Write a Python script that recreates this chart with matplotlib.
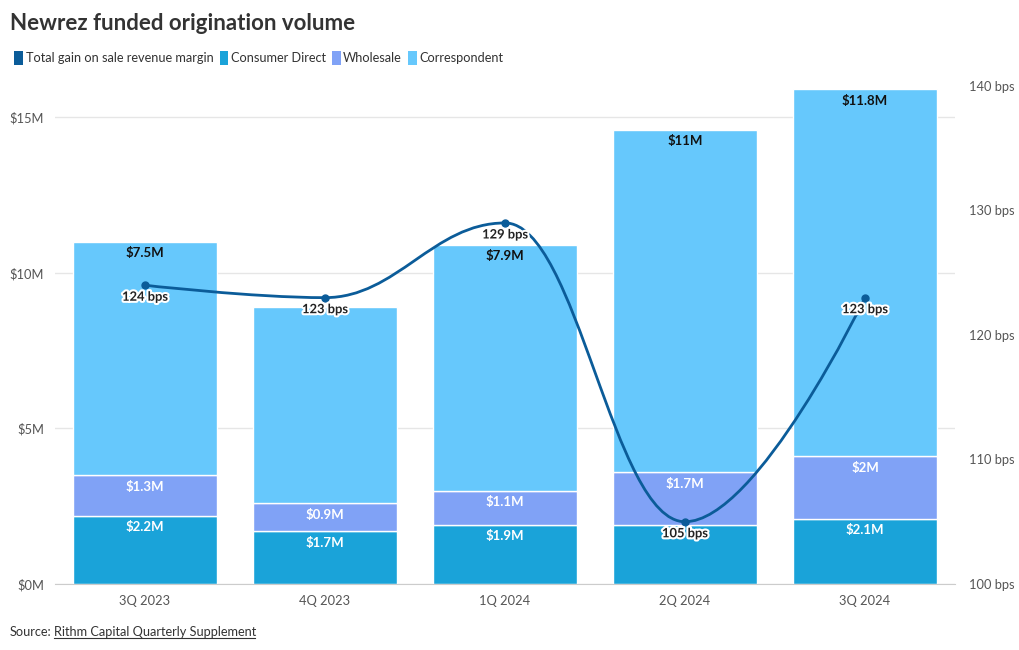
import numpy as np
import matplotlib.pyplot as plt
from matplotlib.path import Path
from matplotlib.patches import PathPatch, Patch
from matplotlib.lines import Line2D
import matplotlib.patheffects as pe

plt.rcParams['font.family'] = ['Lato', 'DejaVu Sans']

quarters = ['3Q 2023', '4Q 2023', '1Q 2024', '2Q 2024', '3Q 2024']
consumer_direct = [2.2, 1.7, 1.9, 1.9, 2.1]
consumer_labels = ['$2.2M', '$1.7M', '$1.9M', '', '$2.1M']
wholesale = [1.3, 0.9, 1.1, 1.7, 2.0]
wholesale_labels = ['$1.3M', '$0.9M', '$1.1M', '$1.7M', '$2M']
correspondent = [7.5, 6.3, 7.9, 11.0, 11.8]
correspondent_labels = ['$7.5M', '', '$7.9M', '$11M', '$11.8M']
margin_bps = [124, 123, 129, 105, 123]

c_line = '#0b5c99'
c_cd = '#1aa3d9'
c_ws = '#80a2f6'
c_cor = '#66c8fc'

fig = plt.figure(figsize=(10.2, 6.5), dpi=100)
ax = fig.add_axes([55 / 1020, 66 / 650, 900 / 1020, 498 / 650])
ax2 = ax.twinx()

x = np.arange(len(quarters))
w = 0.8
cd = np.array(consumer_direct)
ws = np.array(wholesale)
co = np.array(correspondent)
ax.bar(x, cd, w, color=c_cd, edgecolor='white', linewidth=1, zorder=2)
ax.bar(x, ws, w, bottom=cd, color=c_ws, edgecolor='white', linewidth=1, zorder=2)
ax.bar(x, co, w, bottom=cd + ws, color=c_cor, edgecolor='white', linewidth=1, zorder=2)

bold = dict(fontsize=9.5, fontweight='bold', ha='center', va='top')
for i in range(len(x)):
    tops = [cd[i], cd[i] + ws[i], cd[i] + ws[i] + co[i]]
    labs = [consumer_labels[i], wholesale_labels[i], correspondent_labels[i]]
    cols = ['white', 'white', '#111111']
    for top, lab, col in zip(tops, labs, cols):
        if lab:
            ax.annotate(lab, (x[i], top), xytext=(0, -4), textcoords='offset points',
                        color=col, zorder=5, **bold)

ax.set_xlim(-0.5, len(x) - 0.5)
ax.set_ylim(0, 16)
ax.set_yticks([0, 5, 10, 15])
ax.set_yticklabels(['$0M', '$5M', '$10M', '$15M'])
ax.set_xticks(x)
ax.set_xticklabels(quarters)
ax.grid(axis='y', color='#e6e6e6', linewidth=1, zorder=0)
ax.set_axisbelow(True)
for s in ['top', 'right', 'left']:
    ax.spines[s].set_visible(False)
    ax2.spines[s].set_visible(False)
ax.spines['bottom'].set_color('#cccccc')
ax2.spines['bottom'].set_visible(False)
ax.tick_params(axis='both', length=0, labelsize=9.3, colors='#555555', pad=8)

ax2.set_ylim(100, 140)
ax2.set_yticks([100, 110, 120, 130, 140])
ax2.set_yticklabels([f'{v} bps' for v in [100, 110, 120, 130, 140]])
ax2.tick_params(axis='y', length=0, labelsize=9.3, colors='#555555', pad=10)

# smooth spline through the margin points (Highcharts style control points)
px = x.astype(float)
py = np.array(margin_bps, dtype=float)
sm = 1.5
n = len(px)
lcx, lcy, rcx, rcy = px.copy(), py.copy(), px.copy(), py.copy()
for i in range(1, n - 1):
    lx = (sm * px[i] + px[i - 1]) / (sm + 1)
    ly = (sm * py[i] + py[i - 1]) / (sm + 1)
    rx = (sm * px[i] + px[i + 1]) / (sm + 1)
    ry = (sm * py[i] + py[i + 1]) / (sm + 1)
    corr = (ry - ly) * (rx - px[i]) / (rx - lx) + py[i] - ry
    ly += corr
    ry += corr
    if ly > py[i - 1] and ly > py[i]:
        ly = max(py[i - 1], py[i]); ry = 2 * py[i] - ly
    elif ly < py[i - 1] and ly < py[i]:
        ly = min(py[i - 1], py[i]); ry = 2 * py[i] - ly
    if ry > py[i + 1] and ry > py[i]:
        ry = max(py[i + 1], py[i]); ly = 2 * py[i] - ry
    elif ry < py[i + 1] and ry < py[i]:
        ry = min(py[i + 1], py[i]); ly = 2 * py[i] - ry
    lcx[i], lcy[i], rcx[i], rcy[i] = lx, ly, rx, ry
verts = [(px[0], py[0])]
codes = [Path.MOVETO]
for i in range(1, n):
    verts += [(rcx[i - 1], rcy[i - 1]), (lcx[i], lcy[i]), (px[i], py[i])]
    codes += [Path.CURVE4] * 3
ax2.add_patch(PathPatch(Path(verts, codes), facecolor='none', edgecolor=c_line,
                        linewidth=2, zorder=4))
ax2.scatter(px, py, s=25, color=c_line, zorder=5)
for i in range(n):
    ax2.annotate(f'{margin_bps[i]} bps', (px[i], py[i]), xytext=(0, -4),
                 textcoords='offset points', ha='center', va='top', fontsize=9.3,
                 fontweight='bold', color='#222222', zorder=6,
                 path_effects=[pe.withStroke(linewidth=3, foreground='white')])

fig.text(10 / 1020, 1 - 23 / 650, 'Newrez funded origination volume', fontsize=16,
         fontweight='bold', color='#333333', va='center')

handles = [Patch(facecolor=c, edgecolor='none') for c in [c_line, c_cd, c_ws, c_cor]]
names = ['Total gain on sale revenue margin', 'Consumer Direct', 'Wholesale', 'Correspondent']
fig.legend(handles, names, loc='center left', bbox_to_anchor=(3 / 1020, 1 - 58 / 650),
           ncol=4, frameon=False, fontsize=9.2, handlelength=0.7, handleheight=1.2,
           handletextpad=0.2, columnspacing=0.45, labelcolor='#333333')

fig.text(10 / 1020, 1 - 632 / 650, 'Source:', fontsize=9.2, color='#333333', va='center')
fig.text(54 / 1020, 1 - 632 / 650, 'Rithm Capital Quarterly Supplement', fontsize=9.2,
         color='#333333', va='center')
fig.add_artist(Line2D([54 / 1020, 255 / 1020], [1 - 638 / 650, 1 - 638 / 650],
                      color='#333333', linewidth=0.8))

fig.savefig('out.png', dpi=100)
